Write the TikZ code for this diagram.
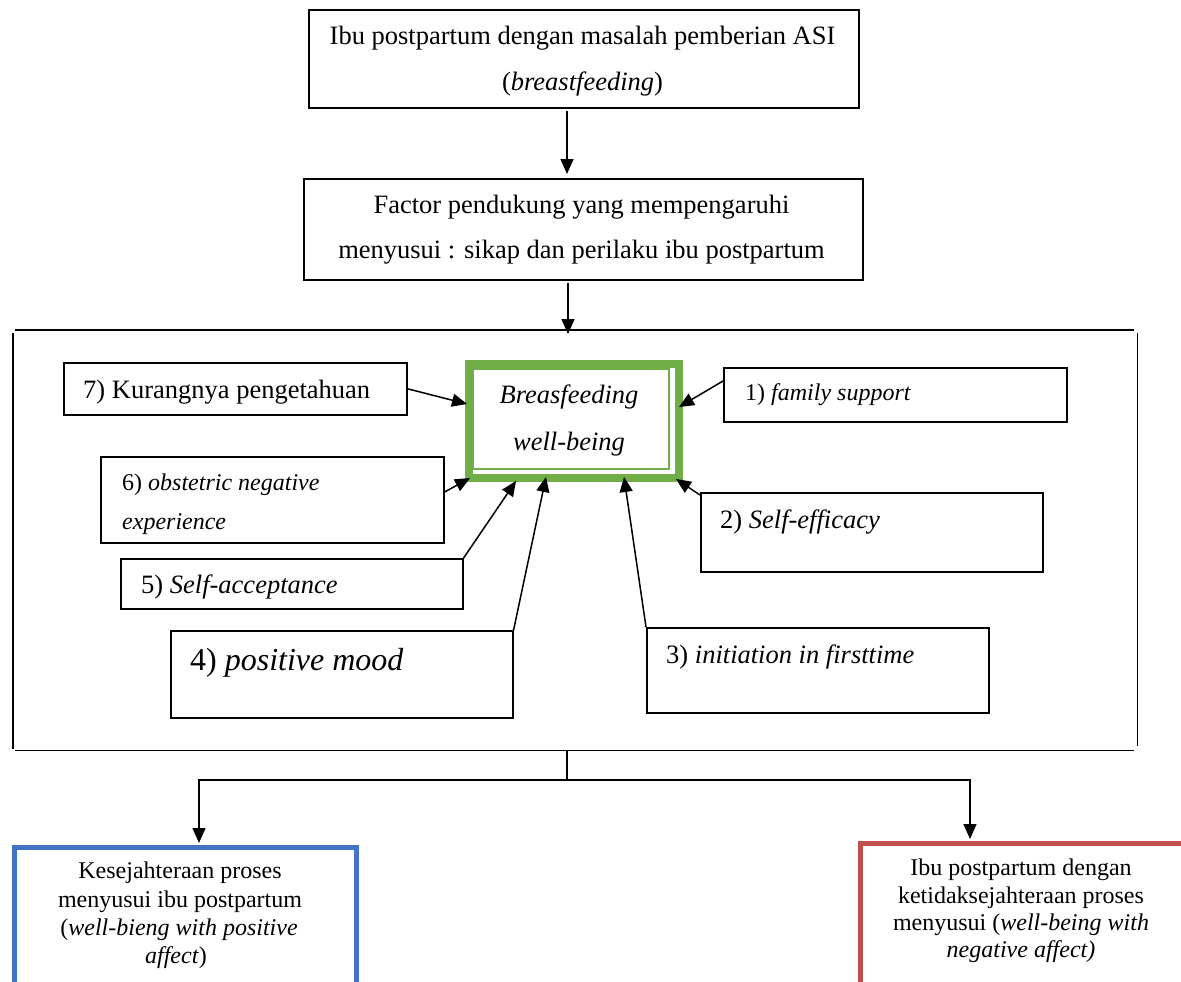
\documentclass[tikz,border=0pt]{standalone}
\usepackage{fontspec}
\setmainfont{Liberation Serif}
\usetikzlibrary{arrows.meta,calc}
\definecolor{grn}{HTML}{70AD47}
\definecolor{blu}{HTML}{4472C4}
\definecolor{rd}{HTML}{C0504D}
\newcommand\fsMain{\fontsize{26.5}{30}\selectfont}
\newcommand\fsSmall{\fontsize{24}{28}\selectfont}
\newcommand\fsBig{\fontsize{32}{36}\selectfont}
\begin{document}
\begin{tikzpicture}[x=1pt,y=-1pt,
  box/.style={draw=black, line width=1.6pt, inner sep=0pt, anchor=north west},
  txt/.style={inner sep=0pt, anchor=base},
  ltxt/.style={inner sep=0pt, anchor=base west},
  arr/.style={line width=1.5pt, -{Triangle[length=15pt,width=13pt]}},
  ln/.style={line width=1.6pt}]
\useasboundingbox (0,0) rectangle (1181,982);
\clip (0,0) rectangle (1181,982);
\fill[white] (0,0) rectangle (1181,982);

% top boxes
\node[box, minimum width=550, minimum height=98] (b1) at (308,9) {};
\node[txt, font=\fsMain] (t1a) at (582.5,45) {Ibu postpartum dengan masalah pemberian ASI};
\node[txt, font=\fsMain] (t1b) at (582.5,90) {(\textit{breastfeeding})};

\node[box, minimum width=559, minimum height=101] (b2) at (303,178) {};
\node[txt, font=\fsMain] (t2a) at (581.5,213) {Factor pendukung yang mempengaruhi};
\node[txt, font=\fsMain] (t2b) at (581.5,258) {menyusui : sikap dan perilaku ibu postpartum};

% frame (drawn as four separate strokes, as in the reference)
\node[box, draw=none, minimum width=1123, minimum height=419] (frame) at (13,330) {};
\draw[ln] ($(frame.north west)+(2,0)$) -- ($(frame.north east)+(-4,0)$);
\draw[ln] ($(frame.north west)+(0,3)$) -- ($(frame.south west)+(0,-2)$);
\draw[ln] ($(frame.north east)+(0,3)$) -- ($(frame.south east)+(0,-5)$);
\draw[ln] ($(frame.south west)+(2,0)$) -- ($(frame.south east)+(-4,0)$);

% central green box
\node[draw=grn, line width=8pt, inner sep=0pt, anchor=north west,
      minimum width=210, minimum height=114] (green) at (465,360) {};
\node[draw=grn, line width=1.5pt, inner sep=0pt, anchor=north west,
      minimum width=196, minimum height=100] (greenin) at (472,368) {};
\node[txt, font=\fsMain\itshape] (tg1) at (569,403) {Breasfeeding};
\node[txt, font=\fsMain\itshape] (tg2) at (569,450) {well-being};

% factor boxes
\node[box, minimum width=343, minimum height=52] (b7) at (63,362) {};
\node[ltxt, font=\fsMain] (t7) at (83,398) {7) Kurangnya pengetahuan};

\node[box, minimum width=343, minimum height=54] (bfs) at (723,367) {};
\node[ltxt, font=\fsSmall] (tfs) at (745,400) {1) \textit{family support}};

\node[box, minimum width=343, minimum height=86] (b6) at (100,456) {};
\begin{scope}
\clip (b6.north west) rectangle ($(b6.south east)+(0,-9)$);
\node[ltxt, font=\fsSmall] (t6a) at (122,490) {6) \textit{obstetric negative}};
\node[ltxt, font=\fsSmall\itshape] (t6b) at (122,529) {experience};
\end{scope}

\node[box, minimum width=342, minimum height=79] (bse) at (700,492) {};
\node[ltxt, font=\fsMain] (tse) at (720,528) {2) \textit{Self-efficacy}};

\node[box, minimum width=342, minimum height=50] (b5) at (120,558) {};
\node[ltxt, font=\fsMain] (t5) at (141,593) {5) \textit{Self-acceptance}};

\node[box, minimum width=342, minimum height=87] (b4) at (170,630) {};
\node[ltxt, font=\fsBig] (t4) at (190,670) {4) \textit{positive mood}};

\node[box, minimum width=342, minimum height=85] (b3) at (646,627) {};
\node[ltxt, font=\fsMain] (t3) at (666,663) {3) \textit{initiation in firsttime}};

% outcome boxes
\node[draw=blu, line width=5pt, inner sep=0pt, anchor=north west,
      minimum width=342, minimum height=200] (blue) at (12,845) {};
\node[txt, font=\fsSmall] (tb1) at (180,878) {Kesejahteraan proses};
\node[txt, font=\fsSmall] (tb2) at (180,907) {menyusui ibu postpartum};
\node[txt, font=\fsSmall] (tb3) at (179,935) {(\textit{well-bieng with positive}};
\node[txt, font=\fsSmall] (tb4) at (176,963) {\textit{affect})};

\node[draw=rd, line width=5pt, inner sep=0pt, anchor=north west,
      minimum width=340, minimum height=200] (red) at (858,841) {};
\node[txt, font=\fsSmall] (tr1) at (1021,875) {Ibu postpartum dengan};
\node[txt, font=\fsSmall] (tr2) at (1021,903) {ketidaksejahteraan proses};
\node[txt, font=\fsSmall] (tr3) at (1021,930) {menyusui (\textit{well-being with}};
\node[txt, font=\fsSmall] (tr4) at (1021,957) {\textit{negative affect)}};

% vertical flow arrows
\draw[arr] ($(b1.south west)+(259,2)$) -- ($(b2.north west)+(264,-4)$);
\draw[arr] ($(b2.south west)+(265,2)$) -- ($(frame.north west)+(555,4)$);

% factor arrows into central box
\draw[arr] (b7.east) -- ($(green.north west)+(2,44)$);
\draw[arr] ($(bfs.north west)+(0,14)$) -- ($(green.north east)+(-4,47)$);
\draw[arr] ($(b6.north east)+(0,36)$) -- ($(green.south west)+(5,-4)$);
\draw[arr] (b5.north east) -- ($(green.south west)+(51,-1)$);
\draw[arr] (b4.north east) -- ($(green.south west)+(81,-5)$);
\draw[arr] (b3.north west) -- ($(green.south west)+(159,-5)$);
\draw[arr] ($(bse.north west)+(0,3)$) -- ($(green.south east)+(-7,-3)$);

% split to outcomes
\coordinate (split) at (567,780);
\draw[ln] ($(frame.south west)+(554,0)$) -- (split);
\draw[arr] (split) -| ($(blue.north west)+(187,-2)$);
\draw[arr] (split) -| ($(red.north west)+(112,-2)$);
\end{tikzpicture}
\end{document}
